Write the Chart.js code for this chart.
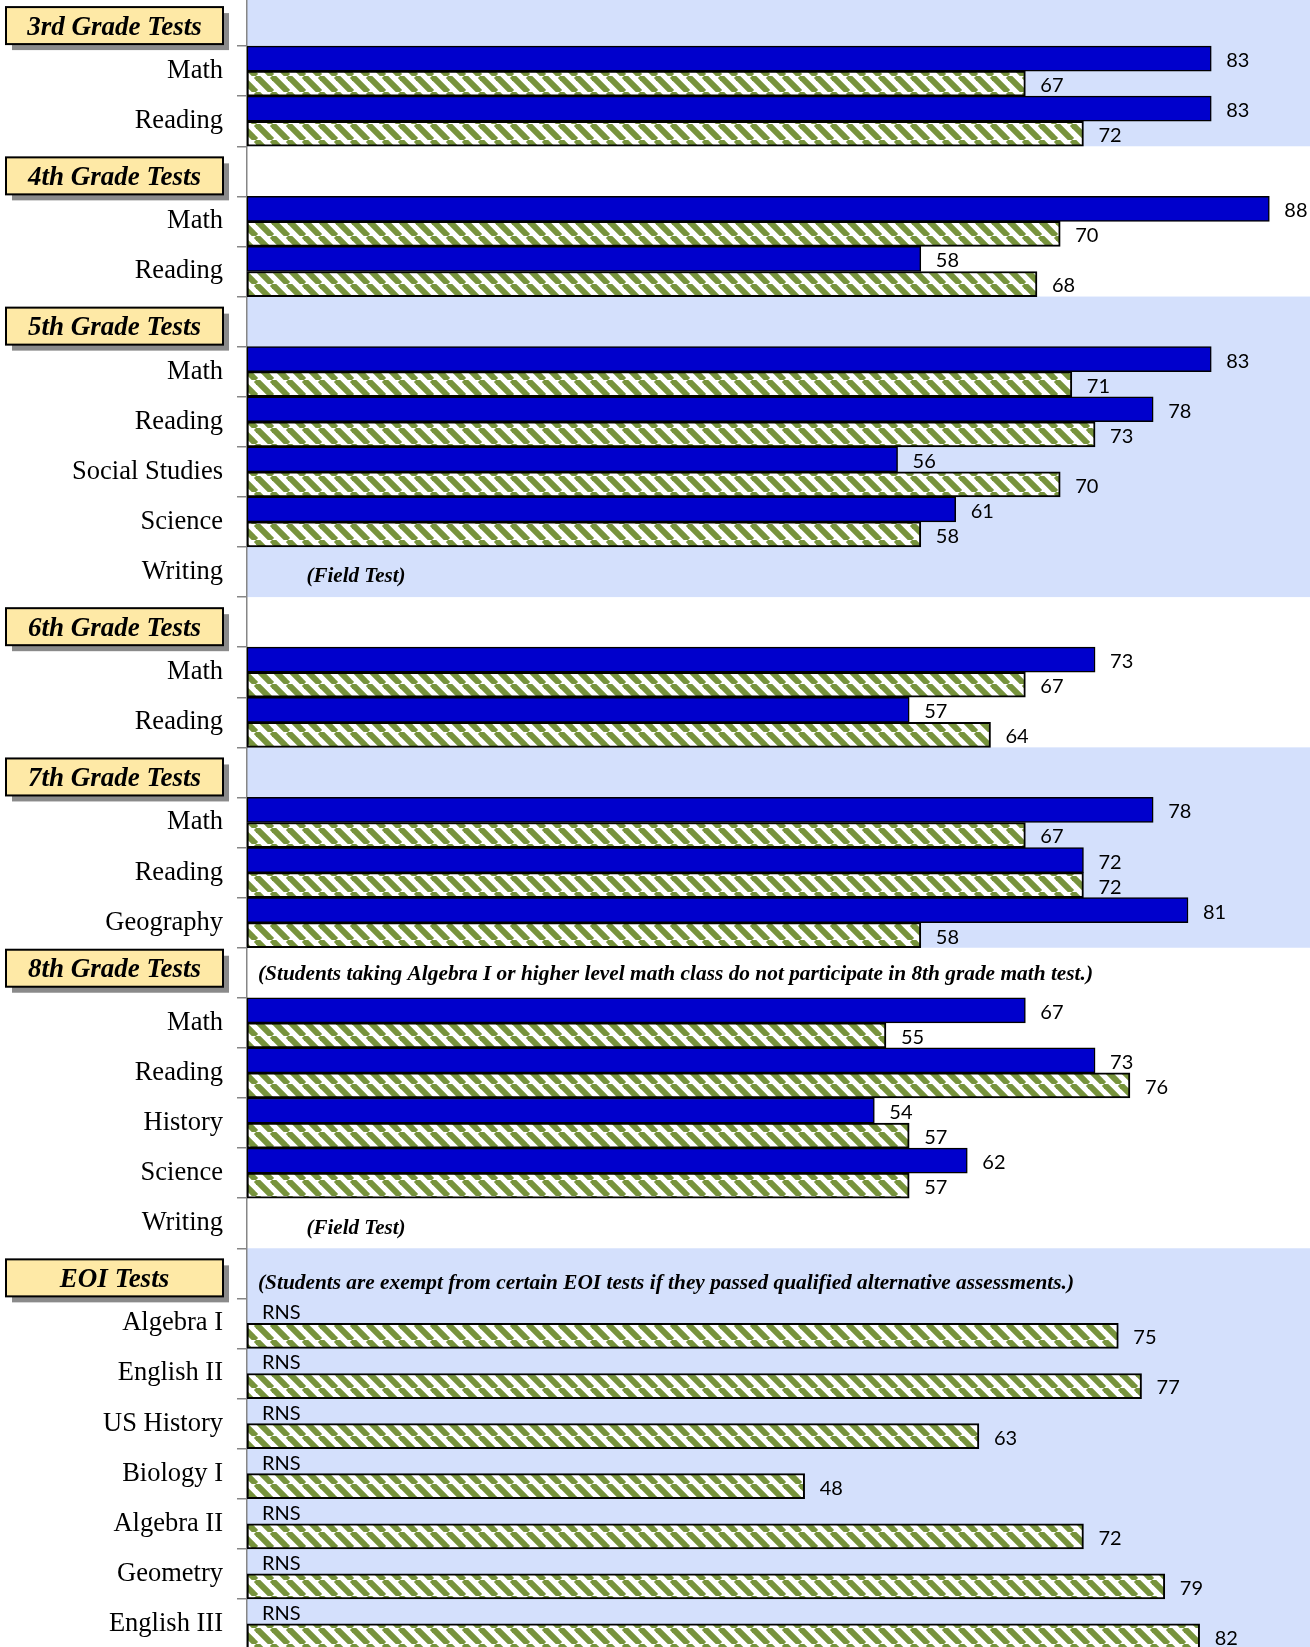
<!DOCTYPE html>
<html>
<head>
<meta charset="utf-8">
<script src="https://cdn.jsdelivr.net/npm/chart.js@4"></script>
<style>
  html, body { margin: 0; padding: 0; background: #ffffff; overflow: hidden; }
  #wrap { position: absolute; left: 0; top: -4px; width: 1310px; height: 1653px; }
</style>
</head>
<body>
<div id="wrap"><canvas id="scores"></canvas></div>
<script>
// Rows of the chart, top to bottom ('' rows hold a group heading)
const subjects = ['', 'Math', 'Reading',
  '', 'Math', 'Reading',
  '', 'Math', 'Reading', 'Social Studies', 'Science', 'Writing',
  '', 'Math', 'Reading',
  '', 'Math', 'Reading', 'Geography',
  '', 'Math', 'Reading', 'History', 'Science', 'Writing',
  '', 'Algebra I', 'English II', 'US History', 'Biology I', 'Algebra II', 'Geometry', 'English III'];

// first series (solid blue), null = no bar
const blueScores = [null, 83, 83,
  null, 88, 58,
  null, 83, 78, 56, 61, null,
  null, 73, 57,
  null, 78, 72, 81,
  null, 67, 73, 54, 62, null,
  null, null, null, null, null, null, null, null];

// second series (green hatched)
const hatchScores = [null, 67, 72,
  null, 70, 68,
  null, 71, 73, 70, 58, null,
  null, 67, 64,
  null, 67, 72, 58,
  null, 55, 76, 57, 57, null,
  null, 75, 77, 63, 48, 72, 79, 82];

// rows where the blue result is reported as RNS
const rnsRows = [26, 27, 28, 29, 30, 31, 32];

const groupTitles = ['3rd Grade Tests', '4th Grade Tests', '5th Grade Tests', '6th Grade Tests',
  '7th Grade Tests', '8th Grade Tests', 'EOI Tests'];
const groupStartRows = [0, 3, 6, 12, 15, 19, 25];
const groupEndRows = [2, 5, 11, 14, 18, 24, 32];

const fieldTestRows = [11, 24];
const noteRows = [19, 25];
const noteTexts = ['(Students taking Algebra I or higher level math class do not participate in 8th grade math test.)',
  '(Students are exempt from certain EOI tests if they passed qualified alternative assessments.)'];

// hatch pattern for the second series
function makeHatch() {
  const s = 16;
  const c = document.createElement('canvas');
  c.width = s; c.height = s;
  const g = c.getContext('2d');
  g.fillStyle = '#ffffff';
  g.fillRect(0, 0, s, s);
  g.strokeStyle = '#77933c';
  g.lineWidth = 6;
  [-s, 0, s].forEach(x0 => {
    g.beginPath();
    g.moveTo(x0, 0);
    g.lineTo(x0 + s, s);
    g.stroke();
  });
  return g.createPattern(c, 'repeat');
}

function rowBounds(chart, i) {
  const y = chart.scales.y;
  const h = (y.bottom - y.top) / subjects.length;
  const c = y.getPixelForValue(i);
  return { top: c - h / 2, bottom: c + h / 2, mid: c };
}

// shaded bands behind alternate groups
const bandsPlugin = {
  id: 'bands',
  beforeDraw(chart) {
    const ctx = chart.ctx;
    const area = chart.chartArea;
    ctx.save();
    ctx.fillStyle = '#d4e0fc';
    groupStartRows.forEach((start, g) => {
      if (g % 2 !== 0 && g !== 6) return;
      const top = rowBounds(chart, start).top;
      const bottom = rowBounds(chart, groupEndRows[g]).bottom;
      ctx.fillRect(area.left, top, area.right - area.left, bottom - top);
    });
    ctx.restore();
  }
};

// value labels, RNS labels, notes and heading boxes
const textPlugin = {
  id: 'texts',
  afterDraw(chart) {
    const ctx = chart.ctx;
    const x = chart.scales.x;
    ctx.save();
    ctx.fillStyle = '#000000';
    ctx.font = '20px Lato, "Noto Sans", sans-serif';
    ctx.textAlign = 'left';
    ctx.textBaseline = 'middle';
    chart.data.datasets.forEach((ds, di) => {
      const meta = chart.getDatasetMeta(di);
      meta.data.forEach((el, i) => {
        const v = ds.data[i];
        if (v !== null) {
          ctx.fillText(String(v), el.x + 15, el.y + 2);
        } else if (di === 0 && rnsRows.includes(i)) {
          ctx.fillText('RNS', x.getPixelForValue(0) + 15, el.y + 2);
        }
      });
    });

    // notes
    const left = chart.chartArea.left;
    ctx.font = 'italic bold 21px "Liberation Serif", "Times New Roman", serif';
    ctx.textAlign = 'center';
    fieldTestRows.forEach(r => {
      ctx.fillText('(Field Test)', left + 109, rowBounds(chart, r).mid + 5);
    });
    const noteWidths = [835, 816];
    const noteShift = [2, 10];
    ctx.textAlign = 'left';
    noteRows.forEach((r, k) => {
      const w = ctx.measureText(noteTexts[k]).width;
      const sx = noteWidths[k] / w;
      ctx.save();
      ctx.translate(left + 11, rowBounds(chart, r).mid + noteShift[k]);
      ctx.scale(sx, 1);
      ctx.fillText(noteTexts[k], 0, 0);
      ctx.restore();
    });

    // heading boxes
    ctx.font = 'italic bold 27px "Liberation Serif", "Times New Roman", serif';
    ctx.textAlign = 'center';
    groupTitles.forEach((t, g) => {
      const rb = rowBounds(chart, groupStartRows[g]);
      const bh = 37, bx = 6, bw = 217;
      const by = g === 5 ? rb.top + 2 : rb.bottom - 2 - bh;
      ctx.fillStyle = '#8a8a8a';
      ctx.fillRect(bx + 6, by + 6, bw, bh);
      ctx.fillStyle = '#fee9a6';
      ctx.fillRect(bx, by, bw, bh);
      ctx.strokeStyle = '#000000';
      ctx.lineWidth = 2;
      ctx.strokeRect(bx, by, bw, bh);
      ctx.fillStyle = '#000000';
      ctx.fillText(t, bx + bw / 2, by + bh / 2 + 2);
    });
    ctx.restore();
  }
};

const ctx = document.getElementById('scores').getContext('2d');
new Chart(ctx, {
  type: 'bar',
  data: {
    labels: subjects,
    datasets: [{
      data: blueScores,
      backgroundColor: '#0000cc',
      borderColor: '#000000',
      borderWidth: 1.5,
      borderSkipped: false,
      barPercentage: 1,
      categoryPercentage: 1
    }, {
      data: hatchScores,
      backgroundColor: makeHatch(),
      borderColor: '#000000',
      borderWidth: 2,
      borderSkipped: false,
      barPercentage: 1,
      categoryPercentage: 1
    }]
  },
  options: {
    indexAxis: 'y',
    responsive: true,
    maintainAspectRatio: false,
    animation: false,
    layout: { padding: 0 },
    plugins: { legend: { display: false }, tooltip: { enabled: false } },
    scales: {
      x: { display: false, min: 0, max: 91.5 },
      y: {
        offset: true,
        grid: { offset: true, drawOnChartArea: false, drawTicks: true, tickLength: 10, color: '#868686', lineWidth: 1.5 },
        border: { display: true, color: '#868686', width: 1.5 },
        ticks: {
          autoSkip: false,
          padding: 14,
          color: '#000000',
          font: { family: '"Liberation Serif", "Times New Roman", serif', size: 26.5 }
        },
        afterFit(scale) {
          scale.width = 247;
          scale.paddingTop = 0;
          scale.paddingBottom = 0;
        }
      }
    }
  },
  plugins: [bandsPlugin, textPlugin]
});
</script>
</body>
</html>
